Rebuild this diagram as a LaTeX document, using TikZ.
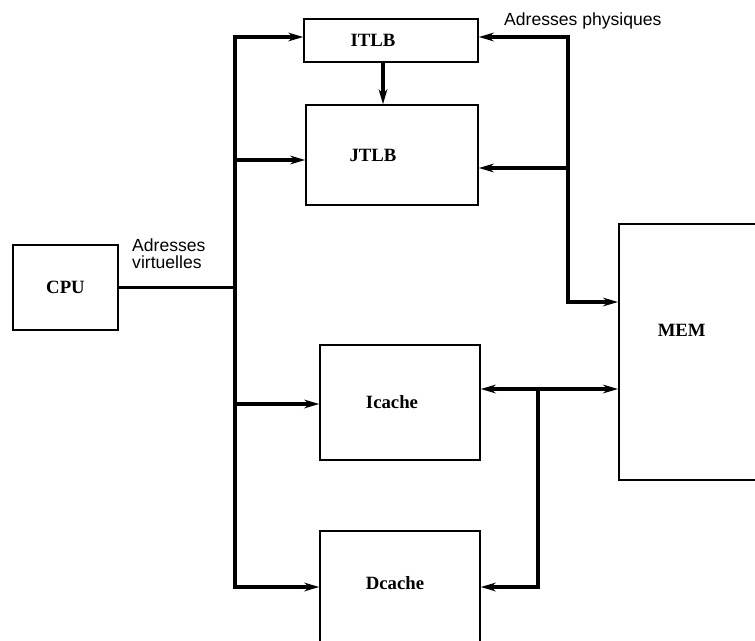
\documentclass[tikz,border=0pt]{standalone}
\usepackage{fontspec}
\setmainfont{Liberation Serif}
\newfontfamily\lblfont{Liberation Sans}
\usetikzlibrary{positioning,arrows.meta,calc}

\begin{document}
\begin{tikzpicture}[
  x=0.03cm, y=-0.03cm,
  blk/.style ={draw, line width=1.3pt, inner sep=0pt, align=center,
               font=\fontsize{16}{18}\selectfont\bfseries},
  lbl/.style ={font=\lblfont\fontsize{15}{14.5}\selectfont, align=left, inner sep=0pt},
  bus/.style ={line width=3.2pt},
  arr/.style ={bus, -{Stealth[length=4.5mm,width=2.6mm]}},
  arrs/.style={bus, {Stealth[length=4.5mm,width=2.6mm]}-{Stealth[length=4.5mm,width=2.6mm]}}]

\clip (0,0) rectangle (755,640);

% blocks
\node[blk, minimum width=3.15cm, minimum height=2.55cm] (cpu)    at (65.5,287.5) {CPU};
\node[blk, minimum width=5.22cm, minimum height=1.29cm] (itlb)   at (391,40.5)   {ITLB\hspace*{1.08cm}};
\node[blk, minimum width=5.16cm, minimum height=3.0cm]  (jtlb)   at (392,155)    {JTLB\hspace*{1.14cm}};
\node[blk, minimum width=4.8cm,  minimum height=3.45cm] (icache) at (400,402.5)  {Icache\hspace*{0.48cm}};
\node[blk, minimum width=4.8cm, text height=1.77cm, text depth=2.43cm,
      anchor=north] (dcache) at (400,530) {Dcache\hspace*{0.3cm}};
\node[blk, text width=3.6cm, align=left, inner xsep=1.17cm,
      text height=3.39cm, text depth=4.29cm, anchor=north west] (mem) at (618,223) {MEM};

% bus points
\coordinate (lt) at (235,37);
\coordinate (lj) at (235,160);
\coordinate (li) at (235,404);
\coordinate (lb) at (235,587);
\coordinate (rt) at (568,37);
\coordinate (rj) at (568,168);
\coordinate (rb) at (568,302);
\coordinate (cj) at (538,389);
\coordinate (cb) at (538,587);
\coordinate (ij) at (383,80);

% virtual addresses
\draw[bus] (cpu.east) -- (cpu.east -| lt);
\draw[arr] (lb) -- (lt) -- (itlb.west |- lt);
\draw[arr] (lt) -- (lb) -- (dcache.west |- lb);
\draw[arr] (lj) -- (jtlb.west |- lj);
\draw[arr] (li) -- (icache.west |- li);
\draw[arr] (itlb.south -| ij) -- (jtlb.north -| ij);

% physical addresses
\draw[arr] (rb) -- (rt) -- (itlb.east |- rt);
\draw[arr] (rt) -- (rb) -- (mem.west |- rb);
\draw[arr] (rj) -- (jtlb.east |- rj);

% caches
\draw[arrs] (icache.east |- cj) -- (mem.west |- cj);
\draw[arr] (cj) -- (cb) -- (dcache.east |- cb);

% labels
\node[lbl, anchor=west] (phys) at (504,21)  {Adresses physiques};
\node[lbl, anchor=west] (virt) at (132,254) {Adresses\\virtuelles};
\end{tikzpicture}
\end{document}
